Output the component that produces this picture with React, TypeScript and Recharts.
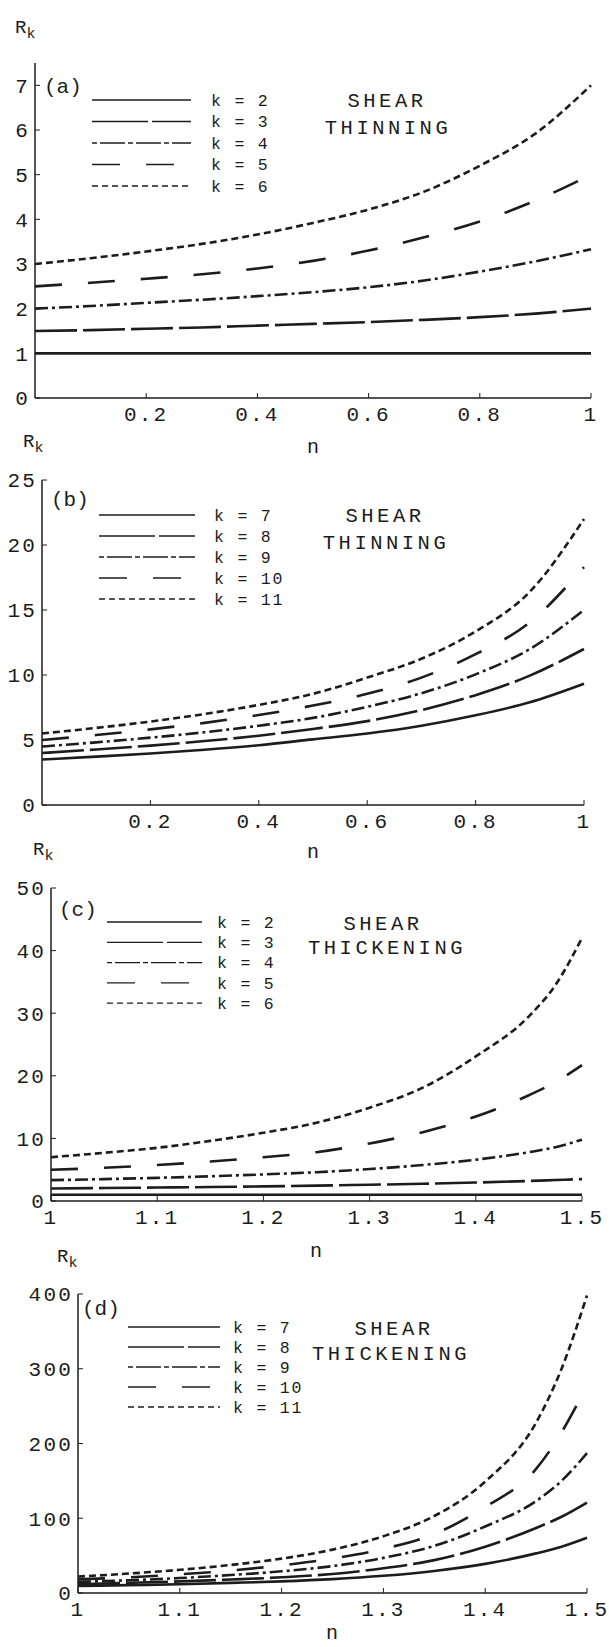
import React from 'react';
import { LineChart, Line, XAxis, YAxis, Legend } from 'recharts';

const FONT = '"Liberation Mono", "Courier New", monospace';
const INK = '#1c1c1c';

// shear thinning panels, n = 0 .. 1
const nThin = [0, 0.1, 0.2, 0.3, 0.4, 0.5, 0.6, 0.7, 0.8, 0.9, 1];
const thinK2 = [1, 1, 1, 1, 1, 1, 1, 1, 1, 1, 1];
const thinK3 = [1.5, 1.52, 1.55, 1.58, 1.62, 1.66, 1.7, 1.75, 1.81, 1.89, 2.0];
const thinK4 = [2.0, 2.06, 2.13, 2.2, 2.28, 2.37, 2.48, 2.63, 2.83, 3.06, 3.33];
const thinK5 = [2.5, 2.58, 2.67, 2.77, 2.9, 3.07, 3.3, 3.6, 3.95, 4.42, 5.0];
const thinK6 = [3.0, 3.13, 3.28, 3.45, 3.66, 3.92, 4.22, 4.62, 5.2, 5.92, 7.0];
const thinK7 = [3.5, 3.72, 3.96, 4.25, 4.6, 5.05, 5.5, 6.1, 6.9, 7.9, 9.33];
const thinK8 = [4.0, 4.27, 4.57, 4.92, 5.33, 5.85, 6.45, 7.3, 8.45, 9.95, 12.0];
const thinK9 = [4.5, 4.82, 5.18, 5.6, 6.1, 6.7, 7.55, 8.6, 10.05, 12.0, 15.0];
const thinK10 = [5.0, 5.38, 5.82, 6.32, 6.92, 7.65, 8.55, 9.8, 11.6, 14.05, 18.3];
const thinK11 = [5.5, 5.93, 6.42, 7.0, 7.7, 8.55, 9.8, 11.25, 13.35, 16.4, 22.0];

// shear thickening panels, n = 1 .. 1.5
const nThick = [1, 1.05, 1.1, 1.15, 1.2, 1.25, 1.3, 1.35, 1.4, 1.45, 1.475, 1.5];
const thickK2 = [1, 1, 1, 1, 1, 1, 1, 1, 1, 1, 1, 1];
const thickK3 = [2.0, 2.07, 2.15, 2.23, 2.33, 2.45, 2.6, 2.75, 2.95, 3.2, 3.35, 3.5];
const thickK4 = [3.33, 3.5, 3.7, 3.95, 4.25, 4.6, 5.1, 5.75, 6.6, 7.8, 8.6, 9.8];
const thickK5 = [5.0, 5.3, 5.75, 6.3, 7.0, 7.8, 9.2, 11.0, 13.5, 16.9, 19.0, 21.7];
const thickK6 = [7.0, 7.7, 8.5, 9.6, 10.9, 12.5, 14.9, 18.1, 23.1, 29.5, 34.5, 42.0];
const thickK7 = [9.33, 10.5, 11.8, 13.5, 15.5, 18.5, 23, 29.5, 39, 53, 62, 74];
const thickK8 = [12, 13.6, 15.5, 18, 21, 25.5, 33, 44, 62, 87, 102, 121];
const thickK9 = [15, 17, 20, 24, 29, 36, 47, 63, 89, 123, 150, 187];
const thickK10 = [18.3, 21, 25, 30, 37, 46, 59, 79, 115, 166, 215, 278];
const thickK11 = [22, 26, 31, 37.5, 46, 58, 76, 103, 149, 228, 300, 398];

const labelsLow = ['k = 2', 'k = 3', 'k = 4', 'k = 5', 'k = 6'];
const labelsHigh = ['k = 7', 'k = 8', 'k = 9', 'k = 10', 'k = 11'];

const xTicksThin = [0.2, 0.4, 0.6, 0.8, 1];
const xTicksThick = [1, 1.1, 1.2, 1.3, 1.4, 1.5];
const yTicksA = [0, 1, 2, 3, 4, 5, 6, 7];
const yTicksB = [0, 5, 10, 15, 20, 25];
const yTicksC = [0, 10, 20, 30, 40, 50];
const yTicksD = [0, 100, 200, 300, 400];

// line styles, same order for every panel
const curveDash = ['', '42 6', '13 4 3 4', '27 26', '7 4'];
const legendDash = ['', '56 4', '5 3 25 3', '28 26', '6 4'];

const makeRows = (n: number[], cols: number[][]) =>
  n.map((v, i) => {
    const row: Record<string, number> = { n: v };
    cols.forEach((c, j) => (row['s' + j] = c[i]));
    return row;
  });

const rowsA = makeRows(nThin, [thinK2, thinK3, thinK4, thinK5, thinK6]);
const rowsB = makeRows(nThin, [thinK7, thinK8, thinK9, thinK10, thinK11]);
const rowsC = makeRows(nThick, [thickK2, thickK3, thickK4, thickK5, thickK6]);
const rowsD = makeRows(nThick, [thickK7, thickK8, thickK9, thickK10, thickK11]);

interface PanelProps {
  top: number;
  height: number;
  box: { left: number; right: number; top: number; bottom: number };
  rows: Record<string, number>[];
  labels: string[];
  xDomain: [number, number];
  xTicks: number[];
  yDomain: [number, number];
  yTicks: number[];
  legend: { x: number; y: number; gap: number; len: number; textX: number };
  tag: { x: number; y: number; text: string };
  title: { x: number; y: number; text: string }[];
  rk: { x: number; y: number };
  nLabel: { x: number; y: number };
}

const tickStyle = { fill: INK, fontSize: 21, fontFamily: FONT, letterSpacing: 2.2 };

const LegendBox = ({ p }: { p: PanelProps }) => {
  const { gap, len, textX } = p.legend;
  return (
    <svg width={textX + 80} height={gap * 5 + 10} style={{ overflow: 'visible' }}>
      {p.labels.map((lab, i) => (
        <g key={lab}>
          <line x1={0} x2={len} y1={10 + i * gap} y2={10 + i * gap} stroke={INK} strokeWidth={1.3} strokeDasharray={legendDash[i]} />
          <text x={textX} y={10 + i * gap} dy="0.35em" fontSize={16.5} letterSpacing={1.8} fontFamily={FONT} fill={INK}>
            {lab}
          </text>
        </g>
      ))}
    </svg>
  );
};

const Panel = (p: PanelProps) => {
  const { box, top } = p;
  const bottom = p.height - (box.bottom - top) - 30;
  return (
    <div style={{ position: 'absolute', left: 0, top }}>
      <LineChart
        width={609}
        height={p.height}
        data={p.rows}
        margin={{ top: box.top - top, right: 609 - box.right, bottom, left: 0 }}
      >
        <XAxis
          dataKey="n"
          type="number"
          domain={p.xDomain}
          ticks={p.xTicks}
          interval={0}
          height={30}
          tickSize={-5}
          tickMargin={13}
          tick={tickStyle}
          stroke={INK}
          axisLine={{ stroke: INK, strokeWidth: 1.5 }}
          tickFormatter={(v: number) => String(v)}
        />
        <XAxis
          xAxisId="top"
          orientation="top"
          type="number"
          domain={p.xDomain}
          ticks={p.xTicks}
          interval={0}
          height={0}
          tickSize={-5}
          tick={false}
          stroke={INK}
          axisLine={{ stroke: INK, strokeWidth: 1.5 }}
        />
        <YAxis
          type="number"
          domain={p.yDomain}
          ticks={p.yTicks}
          interval={0}
          width={box.left}
          tickSize={-5}
          tickMargin={10}
          tick={tickStyle}
          stroke={INK}
          axisLine={{ stroke: INK, strokeWidth: 1.5 }}
        />
        <YAxis
          yAxisId="right"
          orientation="right"
          type="number"
          domain={p.yDomain}
          ticks={p.yTicks}
          interval={0}
          width={0}
          tickSize={-5}
          tick={false}
          stroke={INK}
          axisLine={{ stroke: INK, strokeWidth: 1.5 }}
        />
        {p.labels.map((lab, i) => (
          <Line
            key={lab}
            name={lab}
            dataKey={'s' + i}
            type="monotone"
            stroke={INK}
            strokeWidth={2.6}
            strokeDasharray={curveDash[i]}
            dot={false}
            activeDot={false}
            isAnimationActive={false}
          />
        ))}
        <Legend
          layout="vertical"
          align="center"
          verticalAlign="middle"
          wrapperStyle={{ left: p.legend.x, top: p.legend.y - 10 - top, width: p.legend.textX + 80 }}
          content={() => <LegendBox p={p} />}
        />
        <text x={p.tag.x} y={p.tag.y - top} fontSize={21} fontFamily={FONT} fill={INK}>
          {p.tag.text}
        </text>
        {p.title.map((t) => (
          <text key={t.text} x={t.x} y={t.y - top} textAnchor="middle" fontSize={20.5} letterSpacing={3.5} fontFamily={FONT} fill={INK}>
            {t.text}
          </text>
        ))}
        <text x={p.rk.x} y={p.rk.y - top} fontSize={19} fontFamily={FONT} fill={INK}>
          R<tspan fontSize={15} dy={5}>k</tspan>
        </text>
        <text x={p.nLabel.x} y={p.nLabel.y - top} textAnchor="middle" fontSize={20} fontFamily={FONT} fill={INK}>
          n
        </text>
      </LineChart>
    </div>
  );
};

const App = () => (
  <div style={{ position: 'absolute', left: 0, top: 0, width: 609, height: 1647, background: '#fff' }}>
    <Panel
      top={0}
      height={470}
      box={{ left: 35, right: 591, top: 63, bottom: 398 }}
      rows={rowsA}
      labels={labelsLow}
      xDomain={[0, 1]}
      xTicks={xTicksThin}
      yDomain={[0, 7.5]}
      yTicks={yTicksA}
      legend={{ x: 92, y: 100, gap: 21.5, len: 99, textX: 119 }}
      tag={{ x: 44, y: 93, text: '(a)' }}
      title={[{ x: 387, y: 107, text: 'SHEAR' }, { x: 388, y: 134, text: 'THINNING' }]}
      rk={{ x: 15, y: 33 }}
      nLabel={{ x: 313, y: 453 }}
    />
    <Panel
      top={430}
      height={440}
      box={{ left: 42, right: 584, top: 480, bottom: 805 }}
      rows={rowsB}
      labels={labelsHigh}
      xDomain={[0, 1]}
      xTicks={xTicksThin}
      yDomain={[0, 25]}
      yTicks={yTicksB}
      legend={{ x: 99, y: 515, gap: 21, len: 96, textX: 115 }}
      tag={{ x: 51, y: 506, text: '(b)' }}
      title={[{ x: 385, y: 522, text: 'SHEAR' }, { x: 386, y: 549, text: 'THINNING' }]}
      rk={{ x: 23, y: 447 }}
      nLabel={{ x: 313, y: 858 }}
    />
    <Panel
      top={830}
      height={440}
      box={{ left: 51, right: 582, top: 888, bottom: 1201 }}
      rows={rowsC}
      labels={labelsLow}
      xDomain={[1, 1.5]}
      xTicks={xTicksThick}
      yDomain={[0, 50]}
      yTicks={yTicksC}
      legend={{ x: 107, y: 922, gap: 20.3, len: 95, textX: 110 }}
      tag={{ x: 59, y: 916, text: '(c)' }}
      title={[{ x: 383, y: 930, text: 'SHEAR' }, { x: 387, y: 954, text: 'THICKENING' }]}
      rk={{ x: 33, y: 855 }}
      nLabel={{ x: 316, y: 1257 }}
    />
    <Panel
      top={1230}
      height={417}
      box={{ left: 78, right: 587, top: 1294, bottom: 1593 }}
      rows={rowsD}
      labels={labelsHigh}
      xDomain={[1, 1.5]}
      xTicks={xTicksThick}
      yDomain={[0, 400]}
      yTicks={yTicksD}
      legend={{ x: 128, y: 1327, gap: 20, len: 92, textX: 105 }}
      tag={{ x: 82, y: 1315, text: '(d)' }}
      title={[{ x: 394, y: 1335, text: 'SHEAR' }, { x: 391, y: 1360, text: 'THICKENING' }]}
      rk={{ x: 57, y: 1262 }}
      nLabel={{ x: 332, y: 1639 }}
    />
  </div>
);

export default App;
